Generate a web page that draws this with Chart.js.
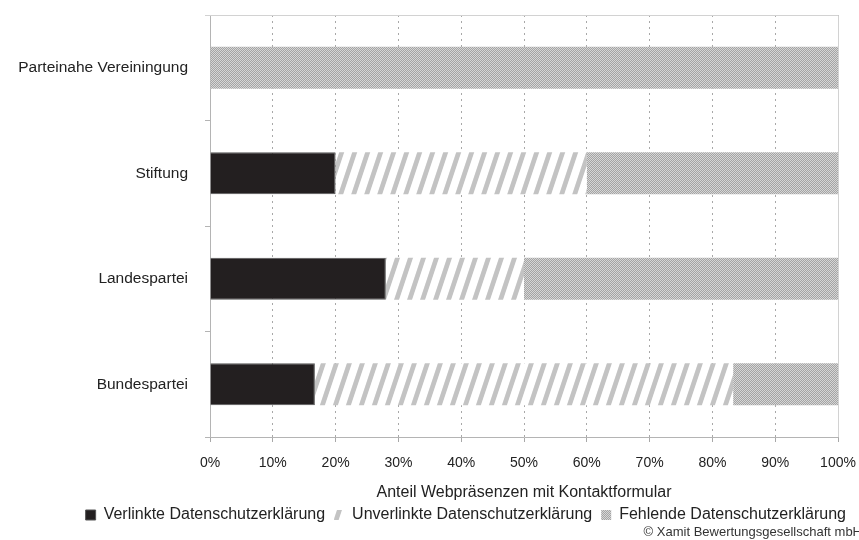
<!DOCTYPE html>
<html>
<head>
<meta charset="utf-8">
<script src="https://cdn.jsdelivr.net/npm/chart.js@4"></script>
<style>
    html, body { margin: 0; padding: 0; background: #fff; }
    #wrap { width: 859px; height: 540px; }
</style>
</head>
<body>
<div id="wrap"><canvas id="grafic" width="859" height="540"></canvas></div>
<script>
"use strict";

// categorias (de arriba abajo) y valores en %
let categories = ['Parteinahe Vereiningung', 'Stiftung', 'Landespartei', 'Bundespartei'];
let verlinkt = [0, 20, 28, 16.7];
let unverlinkt = [0, 40, 22, 66.6];
let fehlend = [100, 40, 50, 16.7];
let xTicks = [0, 10, 20, 30, 40, 50, 60, 70, 80, 90, 100];

let seriesNames = ['Verlinkte Datenschutzerklärung', 'Unverlinkte Datenschutzerklärung', 'Fehlende Datenschutzerklärung'];

function stripePattern() {
    // rayas diagonales "/" grises sobre blanco
    let c = document.createElement('canvas');
    c.width = 13;
    c.height = 39;
    let ctx = c.getContext('2d');
    let img = ctx.createImageData(13, 39);
    for (let y = 0; y < 39; y++) {
        for (let x = 0; x < 13; x++) {
            let hits = 0;
            for (let sy = 0; sy < 4; sy++) {
                for (let sx = 0; sx < 4; sx++) {
                    let px = x + (sx + 0.5) / 4;
                    let py = y + (sy + 0.5) / 4;
                    let ph = ((px + py / 3) % 13 + 13) % 13;
                    if (ph < 5) hits++;
                }
            }
            let a = hits / 16;
            let v = Math.round(255 - a * (255 - 195));
            let i = (y * 13 + x) * 4;
            img.data[i] = v; img.data[i + 1] = v; img.data[i + 2] = v; img.data[i + 3] = 255;
        }
    }
    ctx.putImageData(img, 0, 0);
    return ctx.createPattern(c, 'repeat');
}

function dotPattern() {
    let c = document.createElement('canvas');
    c.width = 2;
    c.height = 2;
    let ctx = c.getContext('2d');
    ctx.fillStyle = '#a4a4a4';
    ctx.fillRect(0, 0, 2, 2);
    ctx.fillStyle = '#d6d6d6';
    ctx.fillRect(0, 0, 1, 1);
    ctx.fillRect(1, 1, 1, 1);
    return ctx.createPattern(c, 'repeat');
}

// marco gris arriba y a la derecha + copyright
let framePlugin = {
    id: 'frame',
    beforeDatasetsDraw(chart) {
        let a = chart.chartArea;
        let ctx = chart.ctx;
        ctx.save();
        ctx.strokeStyle = '#d2d2d2';
        ctx.lineWidth = 1;
        ctx.beginPath();
        ctx.moveTo(a.left - 5, a.top + 0.5);
        ctx.lineTo(a.right + 0.5, a.top + 0.5);
        ctx.lineTo(a.right + 0.5, a.bottom);
        ctx.stroke();
        ctx.restore();
    },
    afterDraw(chart) {
        let ctx = chart.ctx;
        ctx.save();
        ctx.font = '13px "Liberation Sans", Arial, sans-serif';
        ctx.fillStyle = '#333';
        ctx.textAlign = 'right';
        ctx.textBaseline = 'middle';
        ctx.fillText('© Xamit Bewertungsgesellschaft mbH', 862, 532);
        ctx.restore();
    }
};

function main() {
    Chart.defaults.font.family = '"Liberation Sans", Arial, sans-serif';
    Chart.defaults.color = '#222';

    let data = {
        labels: categories,
        datasets: [
            { label: seriesNames[0], data: verlinkt, backgroundColor: '#231f20', borderColor: '#555', borderWidth: 1 },
            { label: seriesNames[1], data: unverlinkt, backgroundColor: stripePattern(), borderWidth: 0 },
            { label: seriesNames[2], data: fehlend, backgroundColor: dotPattern(), borderWidth: 0 }
        ]
    };

    new Chart(document.getElementById('grafic'), {
        type: 'bar',
        data: data,
        options: {
            indexAxis: 'y',
            responsive: false,
            animation: false,
            layout: { padding: { left: 8, right: 4, top: 15, bottom: 7 } },
            datasets: { bar: { categoryPercentage: 1, barPercentage: 0.4 } },
            scales: {
                x: {
                    stacked: true,
                    min: 0,
                    max: 100,
                    afterBuildTicks(scale) {
                        scale.ticks = xTicks.map(v => ({ value: v }));
                    },
                    afterFit(scale) {
                        scale.paddingRight = 21;
                    },
                    ticks: {
                        callback: v => v + '%',
                        font: { size: 14 },
                        padding: 13,
                        maxRotation: 0
                    },
                    grid: {
                        color: '#a8a8a8',
                        tickBorderDash: [],
                        tickColor: '#a8a8a8',
                        tickLength: 5
                    },
                    border: { color: '#b4b4b4', dash: [2, 4] },
                    title: {
                        display: true,
                        text: 'Anteil Webpräsenzen mit Kontaktformular',
                        font: { size: 16 },
                        padding: { top: -2, bottom: -4 }
                    }
                },
                y: {
                    stacked: true,
                    afterFit(scale) {
                        scale.width = 202;
                        scale.paddingTop = 0;
                        scale.paddingBottom = 0;
                    },
                    ticks: { font: { size: 15.5 }, padding: 17 },
                    grid: {
                        offset: true,
                        drawOnChartArea: false,
                        tickColor: '#b4b4b4',
                        tickLength: 5
                    },
                    border: { color: '#b4b4b4' }
                }
            },
            plugins: {
                legend: {
                    position: 'bottom',
                    align: 'end',
                    labels: {
                        boxWidth: 10,
                        boxHeight: 10,
                        padding: 9,
                        font: { size: 16 }
                    }
                },
                tooltip: { enabled: false }
            }
        },
        plugins: [framePlugin]
    });
}

document.addEventListener('DOMContentLoaded', main);
</script>
</body>
</html>
